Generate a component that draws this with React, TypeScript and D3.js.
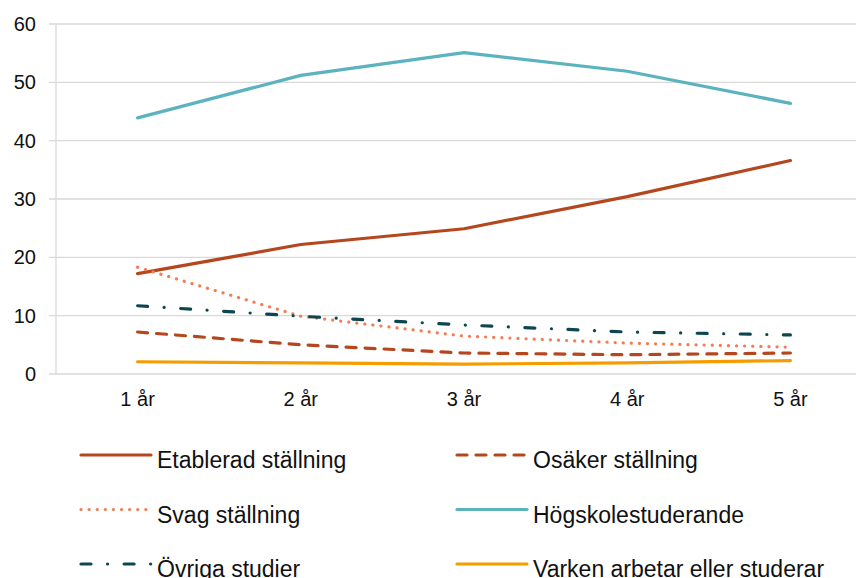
import { useEffect, useRef } from "react";
import * as d3 from "d3";

const years = ["1 år", "2 år", "3 år", "4 år", "5 år"];
const yTicks = [0, 10, 20, 30, 40, 50, 60];

const etablerad = [17.2, 22.2, 24.9, 30.4, 36.6];
const osaker = [7.2, 5.0, 3.6, 3.3, 3.6];
const svag = [18.3, 9.9, 6.5, 5.3, 4.6];
const hogskole = [43.9, 51.2, 55.1, 51.9, 46.4];
const ovriga = [11.7, 9.9, 8.4, 7.2, 6.7];
const varken = [2.1, 1.9, 1.7, 1.9, 2.3];

const series = [
  { name: "Etablerad ställning", values: etablerad, color: "#B5471F", dash: null },
  { name: "Osäker ställning", values: osaker, color: "#B5471F", dash: "10 9" },
  { name: "Svag ställning", values: svag, color: "#F47C52", dash: "0.1 8" },
  { name: "Högskolestuderande", values: hogskole, color: "#5BB3BF", dash: null },
  { name: "Övriga studier", values: ovriga, color: "#0C4750", dash: "10 16.5 0.1 16.5" },
  { name: "Varken arbetar eller studerar", values: varken, color: "#F59D00", dash: null },
];

const W = 856, H = 578;
const plot = { left: 56, right: 872, top: 24, bottom: 374 };

export default function App() {
  const ref = useRef<SVGSVGElement>(null);

  useEffect(() => {
    const svg = d3.select(ref.current);
    svg.selectAll("*").remove();

    const x = d3.scalePoint<string>().domain(years).range([plot.left, plot.right]).padding(0.5);
    const y = d3.scaleLinear().domain([0, 60]).range([plot.bottom, plot.top]);

    // grid
    svg.append("g")
      .selectAll("line")
      .data(yTicks)
      .join("line")
      .attr("x1", plot.left - 7)
      .attr("x2", plot.right)
      .attr("y1", d => y(d))
      .attr("y2", d => y(d))
      .attr("stroke", "#d9d9d9")
      .attr("stroke-width", 1.3);

    svg.append("line")
      .attr("x1", plot.left).attr("x2", plot.left)
      .attr("y1", plot.top).attr("y2", plot.bottom)
      .attr("stroke", "#d9d9d9")
      .attr("stroke-width", 1.3);

    svg.append("g")
      .selectAll("text")
      .data(yTicks)
      .join("text")
      .attr("x", 36)
      .attr("y", d => y(d))
      .attr("dy", "0.35em")
      .attr("text-anchor", "end")
      .attr("font-size", 20)
      .attr("fill", "#111")
      .text(d => d);

    svg.append("g")
      .selectAll("text")
      .data(years)
      .join("text")
      .attr("x", d => x(d) as number)
      .attr("y", 406)
      .attr("text-anchor", "middle")
      .attr("font-size", 20)
      .attr("fill", "#111")
      .text(d => d);

    const line = d3.line<number>()
      .x((_, i) => x(years[i]) as number)
      .y(d => y(d));

    series.forEach(s => {
      svg.append("path")
        .attr("d", line(s.values))
        .attr("fill", "none")
        .attr("stroke", s.color)
        .attr("stroke-width", 3.2)
        .attr("stroke-linecap", "round")
        .attr("stroke-linejoin", "round")
        .attr("stroke-dasharray", s.dash);
    });

    // legend
    const cols = [81, 457];
    const rows = [455, 509.5, 564];
    const lg = svg.append("g");
    series.forEach((s, i) => {
      const lx = cols[i % 2];
      const ly = rows[Math.floor(i / 2)];
      lg.append("line")
        .attr("x1", lx).attr("x2", lx + 70)
        .attr("y1", ly).attr("y2", ly)
        .attr("stroke", s.color)
        .attr("stroke-width", 3.2)
        .attr("stroke-linecap", "round")
        .attr("stroke-dasharray", s.dash);
      lg.append("text")
        .attr("x", lx + 76)
        .attr("y", ly + 13)
        .attr("font-size", 23)
        .attr("fill", "#111")
        .text(s.name);
    });
  }, []);

  return (
    <div style={{ position: "absolute", left: 0, top: 0, width: W, height: H, overflow: "hidden", background: "#fff" }}>
      <svg ref={ref} width={W} height={H} style={{ fontFamily: "'Liberation Sans', Arial, sans-serif", display: "block" }} />
    </div>
  );
}
